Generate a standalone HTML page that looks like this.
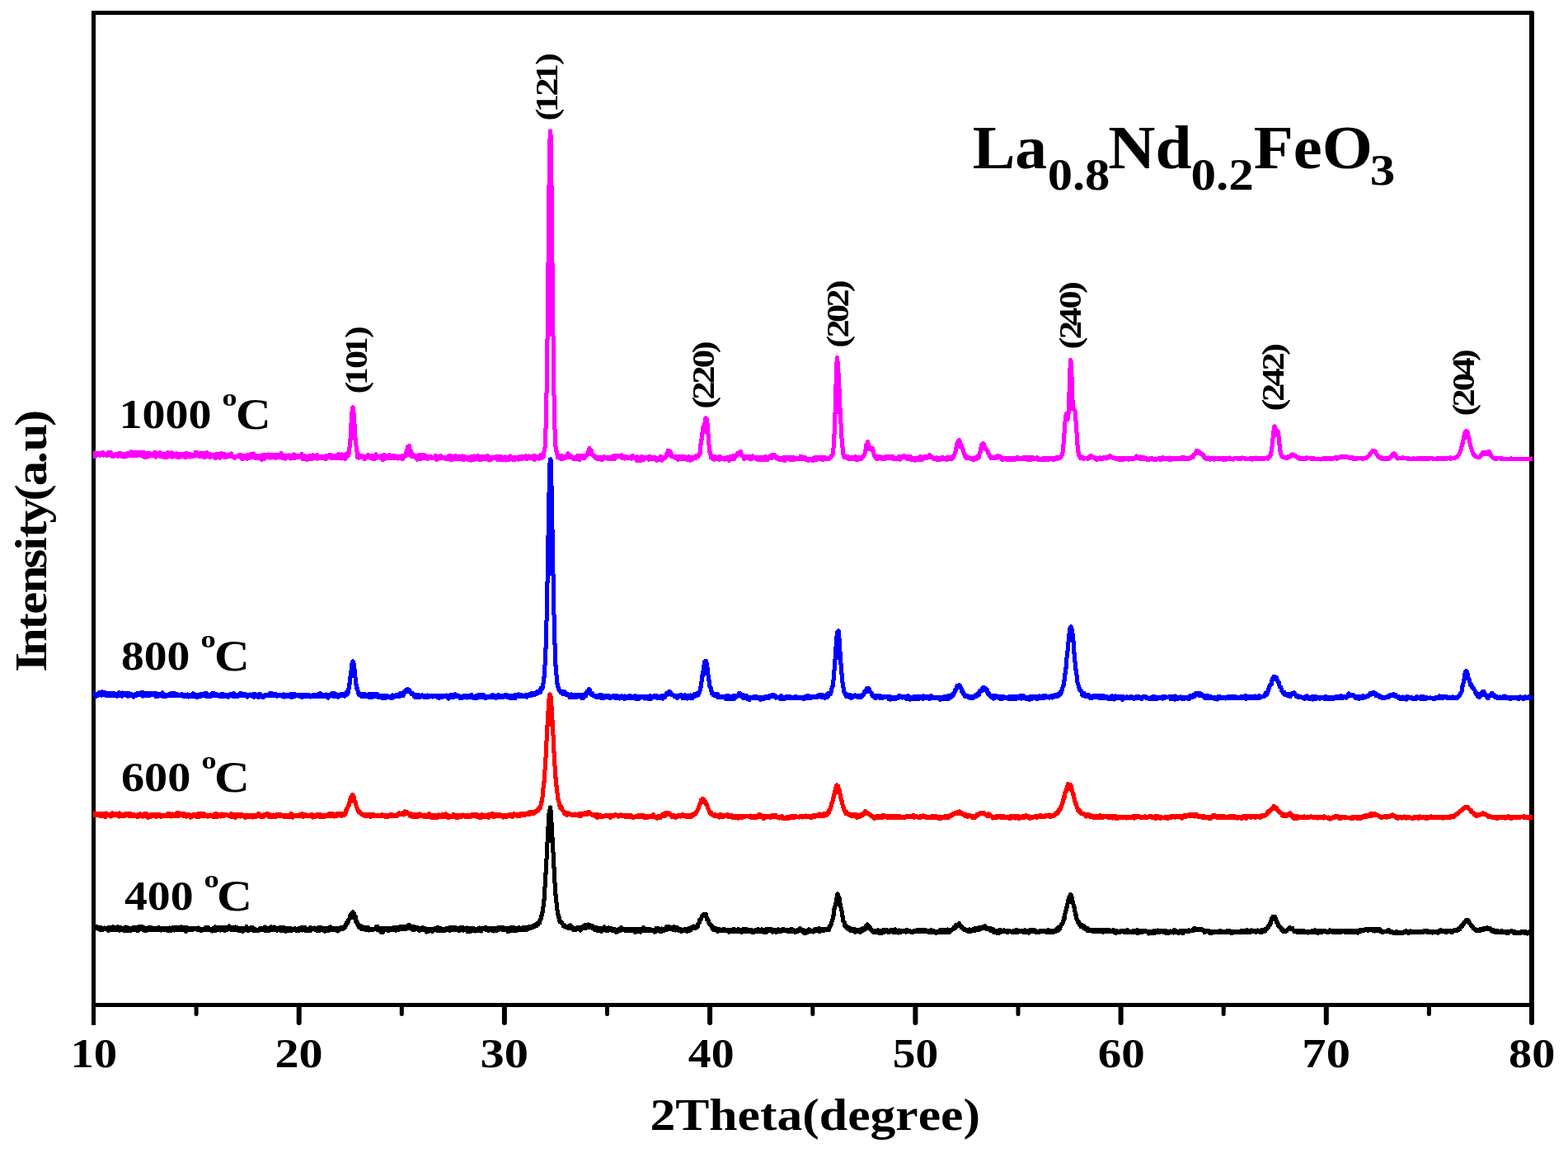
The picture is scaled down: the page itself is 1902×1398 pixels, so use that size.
<!DOCTYPE html>
<html lang="en"><head><meta charset="utf-8"><title>XRD patterns of La0.8Nd0.2FeO3</title>
<style>html,body{margin:0;padding:0;background:#fff;overflow:hidden}svg{display:block}text{font-kerning:none}</style></head>
<body>
<svg width="1902" height="1398" viewBox="0 0 1902 1398" font-family="'Liberation Serif', serif" font-weight="bold" fill="#000">
<rect width="1902" height="1398" fill="#fff"/>
<g shape-rendering="crispEdges">
<rect x="111" y="13" width="5" height="1230"/>
<rect x="111" y="13" width="1750" height="5"/>
<rect x="1855" y="13" width="6" height="1208"/>
<rect x="111" y="1216" width="1750" height="5"/>
<rect x="1860" y="13" width="1" height="1" fill="#fff"/>
</g>
<path d="M362.7 1219.5V1240.0M611.9 1219.5V1240.0M861.1 1219.5V1240.0M1110.4 1219.5V1240.0M1359.6 1219.5V1240.0M1608.8 1219.5V1240.0M1858.0 1219.5V1240.0" stroke="#000" stroke-width="6" stroke-linecap="round" fill="none"/>
<path d="M238.1 1219V1229.5M487.3 1219V1229.5M736.5 1219V1229.5M985.8 1219V1229.5M1235.0 1219V1229.5M1484.2 1219V1229.5M1733.4 1219V1229.5" stroke="#000" stroke-width="5" stroke-linecap="round" fill="none"/>
<g shape-rendering="crispEdges" stroke="none">
<path fill="#000000" d="M113 1121H114V1120H115V1121H119V1122H124V1123H126V1122H127V1123H130V1122H136V1121H138V1122H142V1121H144V1122H148V1123H150V1122H152V1121H153V1122H156V1123H160V1122H167V1121H174V1122H176V1123H179V1122H185V1123H191V1122H194V1123H205V1122H206V1123H208V1122H219V1121H221V1122H228V1123H240V1122H241V1123H243V1124H247V1123H248V1122H254V1123H255V1124H257V1123H259V1122H260V1121H262V1122H276V1121H277V1120H279V1121H280V1122H285V1121H286V1122H289V1123H297V1121H301V1123H303V1122H308V1123H309V1124H311V1125H313V1124H314V1123H319V1122H321V1121H322V1122H324V1123H326V1122H328V1121H330V1122H332V1121H333V1122H335V1123H338V1122H346V1123H354V1124H356V1123H359V1124H361V1123H364V1122H372V1124H374V1123H375V1122H378V1123H381V1122H382V1123H385V1122H391V1123H398V1122H400V1121H402V1122H403V1123H412V1122H416V1121H417V1119H418V1117H419V1116H420V1114H421V1113H422V1109H423V1107H424V1106H425V1105H426V1104H427V1103H429V1104H430V1105H431V1106H432V1109H433V1110H434V1115H435V1117H436V1119H437V1120H439V1121H441V1122H448V1123H449V1124H454V1122H455V1121H460V1123H476V1122H484V1121H493V1120H494V1119H498V1120H499V1121H504V1122H508V1123H511V1122H514V1123H517V1124H526V1123H529V1122H533V1123H536V1124H540V1123H544V1122H554V1123H557V1122H563V1123H566V1122H567V1123H576V1124H579V1123H581V1122H582V1123H587V1122H591V1123H603V1122H612V1123H618V1122H625V1123H628V1122H631V1123H633V1122H640V1121H645V1120H647V1119H649V1118H650V1117H652V1115H653V1113H654V1109H655V1105H656V1099H657V1090H658V1075H659V1058H660V1041H661V1021H662V1002H663V986H664V981H665V977H667V976H668V977H670V982H671V997H672V1015H673V1033H674V1051H675V1070H676V1084H677V1094H678V1103H679V1108H680V1111H681V1115H682V1116H683V1117H684V1119H686V1120H687V1121H689V1120H691V1119H693V1120H694V1121H695V1122H696V1123H699V1122H705V1121H707V1120H708V1119H713V1118H714V1119H717V1120H720V1121H721V1122H725V1123H731V1122H732V1121H734V1122H735V1123H737V1122H739V1123H743V1124H747V1125H749V1124H751V1123H752V1122H755V1123H756V1124H778V1123H779V1122H782V1123H783V1124H790V1125H794V1123H800V1124H802V1123H803V1124H806V1122H807V1121H813V1122H816V1121H819V1122H823V1123H824V1124H827V1125H829V1124H834V1123H837V1122H839V1121H841V1120H842V1121H844V1119H845V1118H846V1114H847V1113H848V1112H849V1109H850V1108H851V1107H852V1106H858V1107H859V1111H860V1113H861V1115H862V1118H863V1119H864V1120H865V1121H866V1122H867V1123H870V1124H874V1125H876V1124H880V1125H888V1124H892V1125H894V1124H897V1125H900V1124H907V1125H913V1126H915V1125H918V1124H921V1125H923V1124H925V1125H928V1124H937V1125H943V1124H945V1125H948V1124H952V1125H958V1124H962V1125H964V1126H966V1125H968V1124H969V1123H972V1124H973V1125H976V1126H979V1125H980V1124H982V1125H984V1126H986V1125H987V1124H992V1123H995V1124H1003V1123H1004V1121H1005V1120H1006V1117H1007V1114H1008V1109H1009V1101H1010V1098H1011V1094H1012V1088H1013V1083H1014V1082H1015V1081H1017V1082H1018V1083H1019V1086H1020V1088H1021V1095H1022V1100H1023V1104H1024V1110H1025V1116H1026V1117H1027V1120H1028V1121H1029V1122H1031V1123H1033V1124H1038V1125H1043V1124H1045V1123H1048V1121H1049V1120H1050V1119H1051V1118H1053V1119H1054V1120H1055V1121H1056V1122H1057V1123H1058V1125H1059V1126H1064V1125H1066V1126H1070V1125H1077V1126H1079V1125H1085V1124H1087V1125H1088V1126H1090V1125H1091V1126H1098V1125H1102V1126H1105V1127H1107V1126H1111V1125H1124V1126H1128V1125H1131V1126H1134V1127H1138V1126H1139V1125H1149V1124H1150V1125H1154V1124H1155V1122H1157V1120H1158V1119H1161V1118H1162V1117H1165V1118H1166V1120H1167V1121H1168V1122H1169V1123H1170V1124H1172V1125H1175V1124H1177V1125H1179V1124H1181V1123H1186V1122H1191V1121H1194V1120H1196V1121H1197V1122H1198V1123H1203V1124H1206V1125H1207V1126H1211V1125H1215V1126H1217V1125H1219V1126H1226V1127H1228V1126H1231V1125H1235V1126H1242V1125H1244V1126H1248V1125H1256V1126H1258V1127H1260V1126H1270V1125H1273V1126H1279V1125H1280V1124H1281V1123H1282V1122H1284V1121H1285V1119H1286V1118H1287V1115H1288V1111H1289V1107H1290V1103H1291V1099H1292V1095H1293V1090H1294V1087H1295V1085H1296V1083H1297V1082H1300V1083H1301V1084H1302V1087H1303V1092H1304V1096H1305V1099H1306V1105H1307V1108H1308V1113H1309V1115H1310V1116H1311V1118H1312V1119H1314V1120H1316V1121H1317V1122H1318V1123H1321V1124H1322V1125H1347V1126H1349V1125H1352V1126H1356V1127H1358V1126H1366V1125H1369V1126H1370V1127H1373V1126H1378V1125H1381V1126H1391V1127H1398V1126H1404V1125H1405V1126H1416V1127H1419V1126H1420V1127H1422V1126H1423V1125H1426V1126H1428V1127H1430V1126H1441V1125H1443V1126H1445V1125H1446V1124H1447V1123H1451V1124H1459V1125H1461V1126H1468V1127H1478V1126H1482V1127H1487V1126H1493V1127H1504V1126H1511V1125H1514V1126H1517V1125H1519V1126H1525V1125H1526V1126H1529V1125H1533V1124H1535V1123H1536V1121H1537V1120H1538V1118H1539V1115H1540V1112H1541V1111H1542V1109H1548V1110H1549V1112H1550V1115H1551V1117H1552V1119H1553V1121H1554V1122H1555V1123H1556V1124H1557V1125H1558V1126H1560V1125H1561V1124H1562V1123H1563V1122H1566V1123H1570V1126H1583V1127H1590V1126H1594V1125H1596V1126H1609V1127H1611V1126H1612V1125H1614V1126H1648V1125H1655V1124H1675V1125H1676V1126H1677V1127H1681V1126H1683V1125H1686V1126H1687V1127H1690V1128H1692V1127H1696V1128H1702V1127H1704V1126H1707V1127H1710V1126H1712V1127H1726V1126H1733V1127H1744V1126H1746V1125H1749V1126H1763V1125H1767V1124H1768V1123H1770V1121H1771V1120H1772V1119H1773V1118H1774V1116H1776V1114H1777V1113H1782V1114H1783V1115H1784V1117H1785V1119H1786V1120H1787V1121H1788V1122H1789V1124H1791V1125H1794V1124H1798V1123H1803V1122H1805V1123H1809V1124H1810V1125H1813V1126H1818V1127H1820V1126H1823V1127H1832V1126H1835V1127H1839V1128H1844V1127H1852V1128H1854V1127H1856V1126H1859V1134H1858V1133H1855V1134H1853V1135H1852V1134H1848V1133H1846V1134H1835V1133H1834V1132H1832V1133H1831V1134H1826V1133H1812V1132H1809V1131H1807V1129H1801V1130H1797V1131H1789V1130H1788V1129H1787V1128H1785V1126H1784V1125H1783V1124H1782V1122H1781V1121H1780V1120H1778V1122H1777V1123H1776V1125H1775V1126H1773V1129H1771V1130H1769V1131H1764V1132H1763V1133H1759V1132H1756V1133H1752V1132H1747V1133H1745V1134H1743V1133H1738V1134H1737V1133H1730V1132H1728V1133H1710V1134H1707V1133H1703V1134H1689V1133H1685V1132H1679V1133H1675V1132H1673V1131H1668V1132H1667V1131H1664V1130H1661V1131H1658V1130H1656V1131H1652V1132H1649V1133H1648V1134H1646V1133H1630V1132H1628V1133H1615V1132H1613V1133H1608V1132H1605V1133H1600V1134H1597V1133H1587V1134H1586V1133H1572V1132H1568V1130H1567V1129H1563V1131H1561V1132H1555V1131H1554V1130H1553V1129H1552V1127H1551V1126H1550V1125H1549V1124H1548V1121H1547V1120H1546V1117H1544V1121H1543V1123H1542V1124H1541V1126H1540V1127H1539V1128H1538V1129H1537V1131H1535V1132H1532V1133H1527V1132H1525V1133H1522V1132H1518V1133H1496V1134H1492V1133H1471V1134H1466V1133H1465V1132H1463V1133H1459V1131H1458V1130H1449V1131H1444V1132H1437V1134H1433V1133H1431V1134H1428V1133H1424V1134H1423V1133H1419V1134H1413V1133H1410V1132H1408V1133H1402V1134H1394V1135H1393V1134H1391V1132H1387V1133H1382V1134H1378V1133H1362V1132H1360V1133H1355V1134H1352V1133H1350V1132H1339V1133H1337V1132H1324V1131H1317V1129H1315V1128H1313V1127H1312V1126H1309V1124H1308V1123H1307V1121H1306V1120H1305V1117H1304V1115H1303V1111H1302V1106H1301V1101H1300V1097H1299V1096H1297V1101H1296V1105H1295V1108H1294V1115H1293V1117H1292V1120H1291V1122H1290V1123H1289V1125H1288V1128H1287V1129H1286V1130H1285V1131H1282V1132H1279V1133H1268V1132H1262V1133H1255V1132H1250V1133H1249V1134H1247V1133H1240V1132H1236V1133H1226V1132H1224V1133H1220V1132H1215V1133H1213V1134H1208V1133H1204V1132H1203V1131H1200V1130H1199V1129H1195V1128H1191V1129H1189V1130H1184V1131H1179V1132H1173V1131H1171V1130H1168V1129H1167V1128H1166V1127H1164V1125H1162V1126H1161V1127H1160V1128H1158V1129H1156V1130H1155V1131H1154V1132H1153V1133H1137V1134H1134V1133H1125V1132H1109V1133H1104V1132H1100V1133H1098V1132H1094V1133H1090V1134H1089V1133H1082V1132H1080V1133H1076V1132H1074V1133H1071V1134H1065V1133H1058V1132H1057V1131H1056V1130H1055V1129H1054V1128H1051V1129H1050V1130H1048V1131H1046V1132H1045V1133H1042V1132H1038V1133H1036V1132H1035V1131H1030V1130H1029V1129H1027V1128H1026V1127H1025V1126H1024V1125H1023V1124H1022V1119H1021V1118H1020V1112H1019V1105H1018V1101H1017V1099H1015V1103H1014V1111H1013V1115H1012V1118H1011V1122H1010V1124H1009V1126H1008V1129H1007V1130H1001V1131H996V1132H992V1131H989V1132H987V1133H986V1132H981V1133H979V1134H974V1133H973V1132H972V1131H969V1132H966V1133H963V1132H954V1131H949V1132H943V1133H940V1132H938V1133H936V1132H935V1131H932V1132H931V1133H925V1132H916V1133H911V1132H901V1133H898V1132H885V1133H883V1132H882V1131H872V1132H869V1131H868V1130H864V1129H863V1128H862V1126H861V1124H860V1123H859V1122H858V1120H857V1117H855V1113H853V1116H852V1117H851V1120H850V1121H849V1125H848V1126H847V1127H845V1128H840V1130H838V1131H835V1132H832V1131H828V1132H825V1131H822V1130H820V1131H819V1130H815V1129H810V1130H807V1131H804V1132H799V1131H797V1132H795V1133H793V1132H792V1131H779V1132H778V1133H776V1132H772V1133H769V1132H768V1131H757V1130H754V1131H751V1132H749V1133H746V1132H745V1131H741V1130H739V1131H734V1130H732V1131H731V1132H728V1131H723V1130H720V1129H719V1128H717V1127H712V1128H707V1129H706V1130H705V1131H703V1130H702V1129H700V1130H694V1129H693V1128H688V1127H685V1126H683V1125H681V1122H680V1121H679V1120H677V1118H676V1114H675V1110H674V1104H673V1095H672V1086H671V1071H670V1053H669V1034H668V1022H666V1042H665V1060H664V1076H663V1092H662V1100H661V1107H660V1111H659V1115H658V1117H657V1121H655V1123H653V1125H650V1126H648V1127H645V1128H642V1129H640V1130H628V1131H619V1132H614V1130H608V1129H606V1130H604V1131H599V1132H598V1131H596V1130H594V1131H591V1130H588V1129H586V1131H584V1132H583V1131H577V1132H576V1131H572V1132H565V1130H563V1131H561V1130H559V1131H555V1130H547V1131H544V1130H541V1131H529V1130H527V1131H526V1132H523V1131H521V1132H518V1133H517V1132H515V1130H510V1131H507V1130H506V1129H504V1130H499V1129H498V1128H494V1129H485V1130H481V1131H479V1130H473V1131H469V1130H467V1132H466V1133H461V1132H460V1131H459V1130H456V1129H454V1130H448V1131H447V1130H442V1129H437V1128H436V1127H434V1126H433V1124H432V1122H431V1120H430V1119H429V1115H426V1116H425V1119H424V1121H423V1122H422V1124H421V1126H420V1127H419V1128H417V1129H413V1130H412V1131H410V1132H409V1131H407V1130H400V1131H395V1132H393V1131H391V1130H389V1131H383V1130H381V1129H379V1130H378V1131H369V1130H367V1131H366V1130H364V1131H358V1130H355V1131H348V1132H345V1131H339V1130H337V1131H335V1130H328V1131H320V1130H315V1131H306V1130H303V1131H299V1130H297V1131H296V1132H293V1131H288V1130H279V1129H277V1130H274V1131H271V1130H268V1131H267V1130H263V1131H258V1132H257V1131H255V1130H246V1131H242V1130H238V1129H235V1130H228V1131H227V1132H224V1131H223V1130H212V1131H211V1130H209V1131H202V1130H196V1131H195V1130H179V1131H174V1130H172V1129H170V1130H169V1131H165V1130H160V1131H149V1130H146V1131H144V1130H133V1131H130V1130H129V1129H126V1130H120V1129H118V1128H116V1130H115V1131H113Z"/>
<path fill="#ff0000" d="M113 983H114V984H128V983H129V984H131V985H134V984H135V983H137V984H144V983H146V984H147V985H151V984H160V985H164V986H166V985H169V984H171V985H174V984H179V985H180V986H182V985H195V986H201V985H202V984H207V985H209V984H210V985H212V984H213V983H218V984H225V985H231V986H233V985H239V984H249V985H250V986H255V985H256V986H258V985H260V984H264V985H269V984H270V985H276V986H278V985H279V984H282V985H295V986H311V985H312V984H316V986H319V985H322V984H326V985H329V986H331V985H332V986H334V985H342V986H351V984H355V985H356V986H362V985H365V984H368V985H372V986H376V985H380V986H383V985H390V986H396V985H398V984H405V985H407V984H417V981H418V979H419V978H420V975H421V972H422V968H423V965H424V964H425V962H426V961H429V962H430V963H431V965H432V970H433V972H434V976H435V979H436V981H437V982H438V983H439V984H440V985H455V986H462V985H465V986H472V985H477V986H480V985H482V984H483V983H485V984H487V983H489V982H490V981H492V982H495V983H496V984H500V985H508V984H510V985H512V986H514V985H515V986H518V985H519V984H522V985H523V986H531V985H533V986H535V985H540V984H542V985H543V986H545V987H548V985H552V986H561V985H562V986H571V985H580V986H583V985H586V986H591V985H595V984H599V985H608V986H616V985H622V984H625V985H630V984H639V983H641V982H648V981H650V979H652V977H653V976H654V971H655V966H656V955H657V947H658V933H659V918H660V898H661V879H662V862H663V847H664V841H665V840H666V839H668V840H669V841H670V844H671V856H672V873H673V891H674V911H675V928H676V942H677V952H678V961H679V968H680V972H681V975H682V976H683V978H684V981H685V982H686V983H690V984H693V985H697V984H698V985H701V984H708V983H712V982H716V983H717V984H718V985H727V986H730V987H733V986H745V985H748V986H752V985H754V986H767V987H768V988H770V987H773V986H782V987H790V986H791V985H794V986H795V988H797V987H801V986H802V985H804V984H806V983H812V984H814V985H815V986H819V987H821V986H826V985H830V986H838V985H840V984H842V983H843V982H844V980H845V977H846V974H847V972H848V968H850V966H854V967H856V969H857V970H858V972H859V974H860V977H861V980H862V982H863V983H865V985H869V986H872V985H876V986H881V985H884V986H889V987H910V986H911V987H918V986H919V985H923V986H925V987H935V986H943V988H947V987H950V988H951V989H953V988H958V987H967V988H969V987H977V986H978V987H985V986H991V985H994V984H995V985H998V984H1002V983H1003V981H1004V980H1005V977H1006V973H1007V971H1008V966H1009V962H1010V958H1011V954H1012V951H1013V950H1014V949H1016V950H1017V951H1019V955H1020V957H1021V962H1022V967H1023V970H1024V975H1025V978H1026V981H1027V982H1029V984H1031V985H1040V986H1043V985H1045V984H1047V982H1048V981H1051V982H1052V983H1054V984H1055V985H1057V986H1058V987H1060V988H1062V987H1069V986H1074V987H1093V988H1098V987H1106V986H1110V987H1113V988H1115V987H1119V986H1121V987H1124V988H1129V987H1137V988H1145V987H1151V986H1153V985H1155V984H1157V983H1160V982H1163V981H1165V982H1166V983H1168V984H1170V985H1173V986H1178V987H1183V985H1186V984H1188V983H1195V984H1196V985H1198V984H1200V985H1202V986H1203V987H1204V988H1207V987H1219V988H1224V987H1237V988H1239V987H1243V986H1246V987H1249V988H1254V987H1260V986H1264V987H1267V986H1272V985H1273V986H1278V984H1280V983H1281V982H1282V980H1283V979H1284V977H1285V975H1286V972H1287V968H1288V964H1289V960H1290V958H1291V955H1292V952H1293V949H1294V948H1297V949H1300V950H1301V952H1302V956H1303V960H1304V962H1305V967H1306V971H1307V973H1308V977H1309V979H1310V980H1311V981H1312V982H1313V984H1316V985H1322V986H1325V987H1333V986H1336V987H1355V988H1373V987H1383V988H1388V987H1390V988H1393V987H1398V988H1400V987H1406V988H1410V989H1412V988H1419V987H1435V986H1441V985H1453V986H1454V987H1462V988H1469V987H1470V986H1475V987H1486V988H1490V987H1499V988H1507V987H1529V986H1534V985H1535V983H1536V982H1537V981H1539V980H1540V979H1541V978H1542V977H1543V975H1547V976H1548V977H1550V978H1551V980H1552V981H1553V982H1554V983H1555V984H1557V985H1562V984H1564V983H1566V984H1567V985H1568V986H1569V987H1575V988H1581V987H1583V988H1589V987H1591V988H1605V987H1607V988H1609V989H1611V988H1612V989H1616V988H1618V987H1624V988H1634V989H1639V988H1652V987H1655V986H1660V985H1661V984H1669V985H1671V986H1673V987H1675V988H1678V987H1686V986H1688V985H1690V986H1692V987H1694V988H1703V987H1704V988H1711V989H1714V988H1721V987H1723V988H1735V987H1737V988H1758V987H1763V986H1764V985H1766V984H1767V983H1769V981H1771V980H1772V979H1773V978H1774V977H1776V976H1782V977H1783V979H1784V980H1786V981H1787V983H1789V984H1790V985H1796V984H1798V983H1800V984H1803V985H1804V986H1806V987H1809V988H1828V987H1831V988H1847V987H1850V988H1856V987H1857V988H1859V994H1856V995H1854V994H1847V993H1845V994H1835V995H1831V994H1827V995H1825V994H1818V995H1814V994H1809V993H1804V992H1803V991H1802V990H1796V991H1793V992H1789V991H1788V990H1786V988H1785V987H1783V986H1782V984H1781V983H1780V982H1777V983H1776V984H1775V985H1773V986H1772V987H1771V988H1770V989H1769V990H1767V991H1766V992H1765V993H1761V994H1751V995H1749V994H1733V995H1728V994H1722V995H1719V994H1716V995H1711V994H1707V995H1705V994H1701V995H1700V994H1697V995H1694V994H1692V993H1691V992H1687V993H1683V994H1681V993H1678V994H1674V993H1672V992H1671V991H1665V992H1659V993H1654V994H1652V995H1645V994H1643V995H1637V994H1628V995H1623V994H1622V993H1620V994H1617V995H1614V996H1612V995H1610V994H1606V995H1605V994H1599V995H1598V994H1591V993H1589V994H1575V995H1568V994H1567V993H1566V992H1565V991H1562V992H1555V991H1553V988H1551V987H1550V986H1549V985H1548V984H1547V983H1544V984H1543V985H1542V986H1541V987H1540V988H1539V989H1538V990H1537V991H1535V992H1532V993H1530V994H1527V993H1524V994H1521V993H1519V994H1516V993H1514V994H1513V995H1510V994H1508V995H1504V994H1502V995H1500V994H1475V993H1471V994H1470V995H1465V994H1457V993H1452V992H1450V993H1449V992H1440V993H1436V994H1435V995H1433V994H1431V993H1426V994H1424V993H1422V994H1418V995H1414V994H1409V995H1406V994H1404V995H1400V994H1396V993H1393V994H1382V993H1379V994H1377V995H1375V994H1367V995H1366V994H1357V995H1352V994H1350V995H1349V994H1343V993H1339V994H1325V993H1321V992H1318V993H1317V992H1315V990H1313V989H1310V988H1309V987H1308V986H1307V985H1306V984H1305V981H1304V978H1303V976H1302V973H1301V969H1300V965H1299V961H1298V959H1296V961H1295V962H1294V968H1293V970H1292V974H1291V977H1290V980H1289V982H1288V984H1287V985H1286V987H1285V988H1284V989H1282V990H1281V991H1279V992H1276V993H1272V992H1269V993H1259V994H1256V993H1254V994H1251V995H1248V994H1246V993H1244V994H1238V995H1234V994H1232V995H1231V994H1227V995H1223V994H1213V993H1211V994H1205V995H1204V994H1202V992H1196V991H1195V990H1193V989H1189V990H1188V991H1186V992H1185V993H1184V994H1178V993H1177V992H1175V993H1172V992H1169V991H1168V990H1166V989H1158V990H1157V991H1155V992H1153V993H1152V994H1143V995H1137V994H1122V993H1118V994H1113V993H1110V994H1108V993H1099V994H1075V993H1072V994H1062V995H1059V994H1058V993H1057V992H1055V991H1054V990H1053V989H1049V990H1048V991H1046V992H1044V993H1041V994H1038V993H1037V992H1031V991H1029V990H1027V989H1024V987H1023V985H1022V983H1021V980H1020V976H1019V972H1018V969H1017V963H1015V964H1014V968H1013V972H1012V975H1011V979H1010V982H1009V984H1008V987H1007V988H1006V989H1005V990H1004V991H1001V992H990V993H986V994H982V993H974V994H973V993H970V994H969V993H965V994H958V995H948V994H946V995H945V994H942V993H936V994H933V993H930V994H928V995H924V993H919V994H910V993H907V992H905V993H902V994H896V995H894V994H887V993H882V992H879V993H873V994H872V993H870V992H865V991H863V990H862V989H860V988H859V986H858V983H857V981H856V978H855V977H854V975H852V976H851V978H850V981H849V983H848V985H847V987H846V989H844V990H843V991H841V992H840V993H831V992H826V993H825V992H823V993H821V994H818V993H813V991H812V990H809V991H808V992H803V994H798V995H796V994H794V993H787V994H780V993H770V994H766V993H757V992H751V993H749V992H748V991H746V992H743V993H742V994H739V993H738V992H733V993H726V994H723V993H722V992H720V991H717V990H716V989H714V990H707V991H706V992H701V991H692V990H689V991H686V990H685V989H683V988H682V985H681V984H680V983H679V982H678V981H677V978H676V973H675V970H674V962H673V954H672V944H671V929H670V913H669V892H668V881H666V899H665V919H664V934H663V949H662V956H661V967H660V973H659V977H658V981H657V982H656V983H655V985H653V986H652V987H650V988H649V989H644V990H638V991H632V992H626V991H624V992H623V993H620V992H616V993H611V994H610V993H608V992H601V993H597V992H595V993H594V994H591V993H585V994H580V993H577V992H572V993H563V992H561V993H557V994H552V993H546V994H542V993H532V994H522V993H513V992H508V993H499V992H496V991H495V989H492V990H490V991H489V990H484V991H483V992H472V993H466V992H451V993H448V992H441V991H439V990H437V989H436V988H435V987H433V985H432V983H431V980H430V977H429V974H426V978H425V979H424V981H423V984H422V987H421V989H420V990H419V991H416V992H413V991H410V992H406V993H405V992H395V993H386V992H384V993H380V994H379V993H377V992H369V993H366V992H357V993H356V994H354V993H343V992H336V993H325V992H324V991H322V992H321V993H315V992H312V993H307V994H306V993H299V994H296V993H295V992H292V993H291V992H288V993H287V994H284V993H279V992H276V991H273V992H268V993H267V992H265V993H257V992H253V993H251V992H243V993H237V992H234V993H232V994H230V993H229V992H227V993H225V992H221V991H218V992H208V993H207V992H197V993H194V992H191V993H188V992H184V993H181V994H178V993H177V992H174V993H172V992H169V993H165V992H155V991H153V992H145V993H144V992H142V991H137V992H135V993H134V992H132V991H130V993H126V992H120V991H113Z"/>
<path fill="#0000ff" d="M113 837H114V838H116V839H118V838H119V837H123V836H125V837H129V838H140V839H142V838H143V837H146V838H148V837H149V838H158V839H161V840H163V839H165V838H170V837H175V838H191V839H195V838H196V837H198V838H199V839H200V840H204V839H206V838H213V839H216V840H219V839H222V840H227V839H228V840H232V839H233V838H235V839H237V840H242V839H247V838H252V839H253V840H255V839H256V838H261V839H264V840H267V839H272V840H278V839H282V838H285V839H286V840H289V839H290V838H294V839H299V840H303V839H304V840H306V839H311V840H313V839H317V840H318V841H320V840H325V839H326V838H331V839H336V840H343V839H345V840H351V839H359V840H376V841H378V840H385V839H387V838H390V839H391V840H395V839H396V840H400V839H401V838H407V839H409V840H412V839H418V837H420V834H421V828H422V820H423V813H424V804H425V801H426V800H427V799H429V800H430V801H431V804H432V811H433V821H434V829H435V833H436V837H437V839H444V840H446V839H459V840H460V841H471V842H474V841H475V840H477V841H479V840H483V839H484V838H488V837H489V836H490V835H491V834H493V833H496V834H498V835H499V837H500V838H502V839H503V840H509V841H511V840H513V841H518V840H519V841H541V840H542V841H545V840H551V839H553V840H555V841H558V842H561V841H570V840H574V842H576V841H579V840H588V841H589V842H594V841H596V840H599V841H603V840H606V841H611V840H616V841H623V840H628V839H630V840H634V841H636V840H641V839H643V838H649V837H650V836H653V834H654V832H656V828H657V820H658V806H659V785H660V752H661V705H662V649H663V597H664V561H665V555H667V554H669V555H670V557H671V589H672V642H673V696H674V745H675V780H676V806H677V818H678V828H679V832H680V835H681V836H686V837H687V838H688V839H690V840H692V839H694V840H708V839H709V838H710V836H712V834H713V833H716V834H717V835H718V838H720V839H721V841H726V840H731V841H740V842H742V841H750V842H753V841H755V842H757V841H758V842H762V841H766V842H769V841H772V842H787V841H790V842H792V841H798V842H801V841H806V839H807V838H809V837H810V836H814V837H815V838H816V840H818V841H824V840H828V841H830V840H832V841H837V840H838V841H840V840H841V839H844V838H846V837H847V832H848V826H849V818H850V813H851V806H852V801H853V800H854V799H858V800H859V803H860V809H861V818H862V824H863V831H864V833H865V837H866V839H872V840H873V842H880V841H885V842H888V841H894V839H895V838H899V839H900V840H903V841H907V842H908V843H913V842H919V843H927V842H932V841H935V840H940V841H942V842H943V843H945V842H946V841H949V842H950V843H952V842H960V843H963V842H967V843H975V842H978V841H982V842H990V841H992V840H999V841H1001V840H1002V839H1003V838H1006V834H1007V831H1008V824H1009V812H1010V799H1011V784H1012V771H1013V765H1014V764H1015V763H1016V762H1018V763H1019V764H1020V774H1021V790H1022V804H1023V816H1024V827H1025V833H1026V838H1027V839H1028V840H1033V841H1036V840H1038V841H1044V840H1046V837H1047V836H1048V835H1049V833H1050V832H1055V833H1056V834H1057V837H1058V838H1059V839H1060V841H1069V842H1081V843H1088V842H1089V841H1093V842H1100V841H1103V842H1104V843H1107V842H1119V841H1121V842H1128V841H1131V842H1132V843H1144V842H1149V841H1153V840H1154V839H1155V838H1156V835H1157V834H1158V831H1159V829H1162V828H1165V829H1166V830H1167V832H1168V834H1169V836H1170V838H1171V840H1172V841H1175V842H1181V841H1182V840H1184V839H1185V838H1186V836H1187V835H1189V833H1190V832H1191V831H1195V832H1197V833H1198V834H1199V835H1200V838H1201V839H1202V841H1210V842H1219V843H1223V842H1236V841H1243V842H1244V843H1248V842H1260V841H1262V842H1264V841H1270V842H1274V841H1278V840H1282V839H1284V837H1285V836H1286V833H1287V830H1288V824H1289V816H1290V809H1291V797H1292V789H1293V778H1294V768H1295V761H1296V759H1297V758H1298V757H1300V758H1301V759H1302V762H1303V768H1304V777H1305V791H1306V802H1307V811H1308V818H1309V827H1310V830H1311V833H1312V835H1313V836H1314V838H1317V840H1322V841H1323V842H1325V841H1340V842H1344V843H1346V842H1348V841H1350V842H1352V841H1354V842H1364V843H1366V842H1368V843H1370V842H1374V843H1377V842H1383V843H1385V842H1391V843H1393V844H1395V843H1397V842H1402V843H1409V842H1415V843H1417V842H1425V841H1426V842H1428V843H1431V842H1433V843H1441V842H1442V841H1446V840H1448V839H1449V838H1457V839H1459V840H1460V841H1467V842H1470V843H1476V842H1481V843H1488V842H1500V843H1504V842H1509V841H1513V842H1522V841H1523V842H1526V841H1529V842H1532V840H1533V838H1535V837H1536V834H1537V831H1538V829H1539V828H1540V824H1541V821H1542V820H1543V818H1548V819H1550V820H1551V823H1552V825H1553V826H1554V831H1556V834H1557V837H1560V839H1566V838H1569V837H1571V838H1572V839H1573V841H1576V842H1579V843H1582V842H1584V841H1586V842H1588V843H1590V842H1598V843H1606V842H1610V843H1619V842H1625V841H1628V842H1633V840H1634V839H1635V838H1637V839H1638V840H1643V841H1644V842H1652V841H1655V842H1657V841H1659V840H1660V838H1664V837H1668V838H1670V839H1671V840H1673V841H1675V842H1677V843H1681V842H1683V841H1685V840H1689V839H1692V840H1695V842H1698V843H1701V842H1702V843H1705V842H1709V843H1714V844H1716V843H1717V842H1720V843H1722V842H1728V843H1732V844H1734V843H1736V844H1740V843H1744V842H1745V841H1747V842H1756V843H1761V842H1763V843H1767V842H1768V841H1769V839H1770V838H1771V831H1772V828H1773V823H1774V816H1775V813H1776V812H1777V811H1780V812H1781V813H1782V816H1783V821H1784V823H1785V827H1786V828H1787V830H1788V832H1789V833H1790V835H1791V837H1792V838H1793V839H1795V838H1796V837H1797V836H1802V838H1803V840H1804V841H1806V840H1807V839H1808V838H1812V840H1814V841H1815V842H1817V843H1819V842H1820V843H1822V842H1824V841H1825V842H1828V843H1843V842H1845V843H1849V842H1851V843H1853V842H1856V843H1859V848H1858V849H1850V850H1846V849H1844V850H1840V849H1834V850H1830V849H1815V848H1812V847H1811V846H1808V847H1807V849H1803V848H1802V847H1801V845H1798V846H1797V847H1796V848H1793V847H1791V846H1790V844H1789V843H1788V841H1787V838H1786V837H1785V836H1784V835H1783V833H1782V832H1781V828H1780V825H1778V829H1777V833H1776V839H1775V841H1774V843H1773V845H1772V846H1771V847H1770V848H1769V849H1754V848H1752V849H1742V850H1737V849H1731V850H1722V849H1719V850H1712V849H1708V850H1707V851H1705V850H1697V849H1695V848H1694V847H1691V846H1687V847H1686V848H1681V849H1675V848H1672V847H1671V846H1667V844H1664V845H1662V846H1661V847H1658V848H1655V849H1650V850H1647V849H1643V848H1642V847H1641V846H1637V847H1635V848H1634V849H1632V848H1630V849H1619V850H1605V849H1602V850H1600V849H1598V850H1593V851H1592V850H1586V849H1584V850H1581V849H1579V848H1573V847H1571V846H1570V844H1568V845H1567V847H1563V846H1560V845H1557V844H1556V843H1555V842H1554V840H1553V839H1552V835H1550V832H1549V829H1548V827H1547V826H1545V831H1544V832H1543V833H1542V836H1541V839H1540V842H1539V844H1538V845H1536V846H1535V847H1531V848H1529V849H1513V850H1510V849H1487V850H1486V849H1479V850H1477V851H1476V850H1472V849H1460V848H1459V847H1458V846H1453V845H1451V847H1448V848H1445V849H1444V850H1440V849H1438V850H1432V849H1430V850H1426V851H1424V850H1418V848H1414V849H1411V850H1409V849H1405V850H1392V849H1389V848H1387V850H1383V849H1377V850H1374V849H1364V850H1363V851H1360V850H1359V849H1354V850H1352V851H1351V850H1343V849H1332V848H1326V849H1321V848H1320V847H1315V846H1312V845H1311V844H1310V840H1309V839H1308V838H1307V835H1306V831H1305V828H1304V819H1303V813H1302V803H1301V793H1300V779H1298V790H1297V798H1296V811H1295V818H1294V826H1293V832H1292V834H1291V838H1290V841H1289V843H1288V844H1287V845H1286V846H1284V847H1279V848H1277V849H1276V848H1274V849H1272V848H1268V849H1260V850H1256V849H1253V850H1250V851H1247V850H1243V849H1240V850H1238V849H1234V850H1222V849H1217V850H1212V849H1210V848H1208V849H1206V850H1204V849H1203V848H1201V847H1200V846H1199V845H1198V844H1197V843H1196V841H1195V839H1193V840H1191V841H1190V844H1189V845H1187V846H1186V847H1183V848H1182V849H1175V848H1173V847H1169V846H1168V844H1167V843H1166V841H1165V840H1164V836H1162V838H1161V840H1160V842H1159V844H1158V846H1156V847H1155V848H1153V849H1152V850H1142V851H1139V850H1138V849H1129V850H1126V849H1121V850H1118V849H1116V850H1105V851H1103V850H1098V849H1097V848H1095V849H1094V848H1091V849H1088V850H1081V851H1079V850H1076V848H1072V849H1066V848H1064V849H1060V848H1059V847H1058V846H1056V844H1055V841H1051V842H1050V844H1049V845H1048V846H1047V847H1046V848H1039V847H1036V848H1034V849H1031V848H1029V847H1025V846H1024V844H1023V842H1022V840H1021V834H1020V828H1019V818H1018V806H1017V800H1015V813H1014V825H1013V833H1012V835H1011V840H1010V843H1009V844H1007V846H1006V847H1005V848H1002V849H999V848H995V847H993V848H985V849H977V850H973V849H953V850H945V849H944V848H942V849H940V848H939V847H935V848H934V849H928V850H924V851H921V850H920V849H911V851H907V850H905V849H900V848H899V847H898V846H896V847H894V848H893V849H892V850H879V849H878V848H869V847H868V846H865V845H863V843H861V839H860V835H859V833H858V826H857V819H855V821H854V827H853V834H852V838H851V841H850V843H849V845H847V846H844V847H842V849H834V850H833V849H826V847H824V848H823V849H820V848H819V847H816V845H813V844H811V845H809V847H808V848H806V849H805V850H803V849H796V848H792V849H791V850H785V849H783V850H782V849H780V848H778V849H776V850H770V849H759V850H756V849H752V850H751V849H745V848H742V849H738V848H734V849H728V848H722V847H720V846H718V845H716V844H715V843H713V846H711V847H710V848H709V849H704V848H703V847H701V848H689V846H688V845H685V844H681V843H680V842H678V840H677V839H676V837H675V834H674V830H673V819H672V808H671V782H670V746H669V698H667V707H666V753H665V787H664V807H663V822H662V829H661V835H660V837H659V838H658V841H657V842H654V843H652V844H650V845H646V846H641V847H640V848H638V847H627V849H617V848H614V847H612V848H603V849H600V848H591V849H587V848H580V849H573V848H567V849H566V848H562V849H556V847H552V848H546V849H545V850H543V849H542V848H541V847H538V848H534V849H531V848H529V847H525V848H524V847H521V848H513V847H511V848H502V847H501V846H500V844H497V842H496V841H493V842H492V844H491V846H486V847H479V848H477V849H473V848H469V849H462V848H457V847H453V848H446V847H437V846H436V845H434V844H433V842H432V838H431V836H430V831H429V822H427V830H426V836H425V841H424V843H423V844H422V845H420V846H419V847H417V846H413V847H411V848H409V847H403V846H401V847H400V848H399V849H397V848H396V847H377V848H376V847H368V848H365V847H362V846H359V847H356V848H352V847H346V848H344V847H341V846H337V847H335V846H322V847H321V848H317V847H315V848H312V847H309V848H307V847H305V846H302V847H301V848H299V847H298V846H290V847H281V846H279V847H278V848H276V847H265V846H257V847H249V846H245V847H241V848H237V847H229V848H228V847H221V846H203V847H196V846H193V847H187V845H183V846H174V847H172V846H171V845H167V846H164V847H163V848H161V847H160V846H156V847H154V846H152V845H150V846H149V847H147V846H143V847H141V846H127V845H124V846H122V845H120V846H118V847H115V846H114V844H113Z"/>
<path fill="#ff00ff" d="M113 547H115V546H116V547H123V546H126V547H127V548H129V547H130V546H136V547H137V549H139V548H143V547H148V548H153V547H157V546H158V545H160V546H176V547H183V548H185V547H186V546H190V547H193V546H195V547H197V548H201V547H202V546H205V547H207V546H209V547H211V548H213V547H215V548H224V547H228V548H232V549H235V546H240V547H250V546H252V547H253V548H256V549H261V548H267V547H270V548H274V549H278V548H280V547H281V548H283V551H287V550H289V549H294V550H299V549H303V548H307V547H308V548H310V550H317V549H325V548H326V549H339V547H343V549H344V550H350V549H351V550H354V549H356V548H357V549H359V550H364V548H368V550H371V551H374V550H378V549H381V550H383V549H386V550H387V551H394V550H398V549H403V550H408V549H409V548H412V549H414V548H415V549H418V548H420V547H421V542H422V532H423V513H424V499H425V493H426V492H427V491H429V492H430V493H431V500H432V514H433V530H434V540H435V546H436V549H437V550H441V551H444V550H445V549H448V550H454V549H455V548H457V549H458V550H459V551H461V550H464V549H468V550H471V549H474V550H481V551H486V550H490V547H491V544H492V540H493V539H495V538H498V539H499V544H500V545H501V548H502V549H503V550H507V549H516V550H518V551H524V552H526V550H530V551H533V550H536V551H537V552H542V551H543V550H548V551H551V550H554V551H560V550H562V551H565V552H570V551H575V550H576V551H578V550H581V551H590V550H593V551H594V552H600V551H609V552H612V551H613V552H617V551H618V550H620V551H621V552H629V551H637V550H639V551H641V550H642V551H646V550H650V551H654V549H657V547H658V542H659V519H660V476H661V411H662V318H663V224H664V168H665V157H667V156H668V157H670V163H671V225H672V319H673V407H674V479H675V520H676V541H677V546H678V550H683V551H686V549H687V548H688V547H690V548H691V549H692V550H694V551H695V552H698V551H699V550H710V548H711V546H712V543H713V541H717V543H718V544H719V545H720V549H721V550H722V551H724V552H731V551H734V552H741V551H743V550H753V549H755V550H756V551H761V552H764V551H766V550H769V551H770V552H772V551H774V552H777V551H780V552H786V551H790V552H796V553H799V551H803V552H806V549H807V547H808V544H813V545H815V547H816V549H817V551H832V552H834V551H837V552H842V551H843V550H846V548H847V538H848V532H849V524H850V517H851V515H852V512H853V506H854V505H855V504H857V505H858V506H859V507H860V513H861V526H862V539H863V547H864V550H865V551H869V552H871V551H875V552H876V553H880V552H884V551H888V550H892V548H893V547H895V546H897V545H900V546H901V549H902V551H912V550H914V551H915V552H927V551H930V552H932V551H933V550H935V549H941V550H942V551H943V552H945V553H949V552H964V553H969V551H974V552H978V553H979V554H985V553H987V552H1002V553H1006V551H1007V550H1008V543H1009V526H1010V500H1011V466H1012V439H1013V432H1014V431H1017V432H1018V438H1019V452H1020V471H1021V495H1022V513H1023V531H1024V541H1025V550H1026V551H1030V552H1036V551H1039V552H1045V551H1046V549H1047V545H1048V538H1049V537H1050V534H1051V533H1054V534H1055V537H1056V540H1057V541H1060V542H1061V545H1062V550H1063V551H1069V552H1073V551H1085V553H1088V552H1089V551H1095V550H1098V551H1106V552H1107V553H1113V552H1115V551H1118V552H1120V551H1125V550H1126V549H1129V550H1130V551H1131V552H1133V553H1135V552H1137V553H1141V552H1145V553H1147V552H1154V551H1155V550H1156V547H1157V542H1158V537H1159V535H1160V533H1161V532H1162V531H1165V532H1166V534H1167V537H1168V539H1169V542H1170V544H1171V548H1172V550H1173V551H1174V552H1177V553H1182V552H1184V551H1185V550H1186V547H1187V542H1188V538H1189V537H1190V536H1191V535H1194V536H1195V537H1196V540H1197V542H1198V543H1199V545H1200V546H1201V549H1202V551H1203V552H1207V551H1209V550H1212V551H1215V552H1216V553H1232V552H1236V553H1240V552H1254V553H1257V552H1259V553H1261V554H1264V553H1280V552H1285V551H1286V548H1287V538H1288V525H1289V511H1290V503H1291V500H1292V499H1294V475H1295V446H1296V435H1297V434H1300V435H1301V437H1302V457H1303V485H1304V494H1305V496H1306V498H1307V510H1308V524H1309V539H1310V547H1311V551H1313V552H1315V553H1319V552H1320V551H1322V550H1325V551H1326V552H1329V553H1333V552H1335V553H1337V552H1343V551H1345V550H1348V551H1349V552H1352V553H1376V551H1378V550H1379V551H1381V552H1383V551H1384V552H1389V553H1392V554H1394V553H1399V554H1404V553H1409V552H1412V553H1418V552H1419V553H1432V552H1438V553H1443V552H1444V551H1446V549H1448V547H1449V545H1450V544H1454V545H1456V546H1457V547H1458V548H1460V549H1461V550H1462V551H1463V553H1465V552H1466V553H1491V552H1492V553H1494V554H1496V553H1506V552H1507V553H1512V554H1515V553H1523V552H1524V553H1536V552H1538V551H1539V547H1540V541H1541V531H1542V522H1543V516H1544V515H1545V514H1547V515H1548V516H1549V519H1550V520H1551V521H1552V522H1553V528H1554V538H1555V546H1556V551H1557V552H1561V551H1564V550H1565V549H1567V548H1568V549H1571V550H1573V551H1574V552H1577V553H1584V552H1586V553H1595V554H1604V553H1618V552H1625V551H1635V552H1642V553H1656V552H1658V551H1659V549H1660V548H1661V547H1662V546H1663V544H1668V545H1670V546H1671V549H1672V550H1673V551H1674V552H1677V553H1684V552H1686V550H1687V549H1688V548H1690V547H1692V548H1694V550H1695V551H1696V553H1700V552H1703V553H1710V554H1713V553H1716V554H1718V553H1739V554H1742V553H1758V552H1760V553H1764V552H1766V551H1767V550H1768V548H1769V545H1770V541H1771V537H1772V533H1773V528H1774V524H1775V522H1776V521H1777V520H1780V521H1782V523H1783V528H1784V531H1785V537H1786V541H1787V544H1788V547H1789V549H1790V550H1791V551H1792V552H1794V550H1795V549H1796V547H1797V546H1804V545H1808V546H1809V548H1810V550H1811V552H1812V553H1823V554H1832V553H1834V554H1857V553H1858V554H1859V559H1819V558H1817V559H1812V558H1810V557H1809V556H1808V555H1807V554H1806V553H1799V554H1798V555H1797V556H1796V557H1791V556H1788V555H1787V554H1786V553H1785V551H1784V548H1783V545H1782V542H1781V538H1780V533H1778V534H1777V539H1776V542H1775V546H1774V549H1773V551H1772V553H1771V554H1770V556H1768V557H1766V558H1761V559H1758V558H1756V559H1737V558H1735V559H1706V558H1696V559H1695V558H1693V557H1692V555H1690V556H1688V558H1686V559H1675V558H1673V557H1671V556H1670V555H1669V553H1668V552H1667V550H1665V551H1664V553H1663V554H1662V555H1661V556H1660V557H1659V558H1655V559H1651V558H1647V559H1640V558H1635V557H1625V558H1623V559H1620V558H1618V559H1603V560H1602V559H1589V558H1586V559H1575V558H1573V557H1572V556H1570V555H1567V556H1565V557H1563V558H1558V557H1555V556H1553V554H1552V552H1551V548H1550V540H1549V530H1547V532H1546V542H1545V548H1544V553H1543V555H1542V556H1541V557H1540V558H1539V559H1537V558H1535V559H1520V560H1518V559H1509V558H1507V559H1500V558H1498V559H1497V560H1495V559H1488V560H1482V559H1474V560H1472V559H1469V560H1467V559H1462V558H1460V557H1459V556H1458V554H1457V553H1455V552H1451V553H1450V555H1449V557H1446V558H1444V559H1422V560H1417V559H1410V560H1406V559H1404V560H1398V559H1395V560H1390V559H1381V558H1377V559H1370V560H1368V559H1364V560H1356V559H1352V558H1349V557H1345V558H1342V559H1341V558H1339V559H1332V560H1329V559H1327V558H1326V557H1323V558H1321V559H1318V558H1316V559H1313V558H1309V557H1308V555H1307V553H1306V549H1305V540H1304V525H1303V511H1302V499H1301V498H1299V502H1298V509H1297V511H1295V512H1294V526H1293V539H1292V549H1291V553H1290V555H1289V556H1288V557H1287V558H1284V559H1280V560H1276V559H1273V560H1258V559H1252V560H1245V559H1232V560H1220V559H1218V560H1214V559H1213V557H1210V558H1200V556H1199V555H1198V552H1197V551H1196V548H1195V547H1194V546H1192V549H1191V551H1190V556H1189V557H1188V558H1186V559H1183V560H1179V559H1176V558H1170V556H1169V555H1168V552H1167V549H1166V546H1165V544H1162V548H1161V551H1160V554H1159V556H1158V557H1157V558H1156V559H1150V560H1147V559H1142V560H1135V559H1131V558H1130V557H1126V558H1121V559H1120V560H1111V561H1109V560H1104V559H1099V558H1098V557H1095V558H1094V559H1093V560H1091V559H1082V558H1075V559H1068V558H1066V559H1062V558H1061V557H1060V556H1059V554H1058V551H1057V548H1056V547H1052V550H1051V553H1050V555H1049V556H1048V557H1047V558H1046V559H1042V560H1037V559H1028V558H1026V557H1022V555H1021V552H1020V543H1019V532H1018V514H1017V502H1015V527H1014V544H1013V552H1012V554H1011V555H1010V557H1008V558H1007V559H1000V560H996V559H992V560H988V561H984V560H982V561H979V560H976V559H965V560H957V559H954V561H950V560H944V559H942V558H940V557H938V558H933V560H918V559H916V558H913V559H911V560H910V559H908V558H904V559H901V558H900V555H898V553H896V555H894V556H893V558H892V559H887V560H886V561H883V560H882V559H880V560H878V559H874V560H871V559H867V560H865V559H863V558H862V557H860V552H859V549H858V540H857V527H856V526H854V534H853V540H852V551H851V553H850V554H849V556H846V558H842V559H841V560H838V561H836V560H832V559H824V560H821V559H820V558H818V557H816V556H813V555H812V554H810V556H809V557H808V558H806V559H805V560H804V561H802V560H798V561H795V560H794V559H788V560H786V559H785V558H783V559H782V560H779V561H771V560H770V558H767V559H765V558H758V559H757V558H753V557H752V556H749V557H748V558H747V559H736V558H733V559H732V560H728V559H723V558H721V557H720V556H719V555H718V554H717V553H714V554H713V555H712V556H711V558H705V560H701V559H694V558H693V557H687V558H684V559H679V558H677V557H674V552H673V548H672V542H671V521H670V480H669V408H667V412H666V477H665V520H664V543H663V548H662V555H661V556H660V557H658V558H655V559H653V558H651V559H650V560H647V559H645V558H641V559H637V558H635V559H630V560H628V559H626V560H621V559H619V560H614V561H613V560H602V559H601V558H598V559H597V560H594V561H593V560H591V559H585V560H580V559H576V560H572V561H570V560H567V559H564V560H560V559H550V560H545V559H539V558H533V559H531V560H528V559H527V558H520V559H517V558H512V559H507V560H505V559H504V558H503V557H502V556H497V554H494V555H493V556H491V558H490V559H486V558H483V559H482V558H468V559H466V560H462V558H460V557H458V558H456V559H451V558H448V557H445V558H444V559H440V557H436V558H434V557H432V556H431V548H430V541H429V534H427V543H426V551H425V554H424V555H422V557H421V558H420V559H417V558H414V559H413V558H400V557H398V558H397V559H393V558H386V559H384V558H380V559H374V560H371V559H365V557H359V558H353V559H352V558H350V557H348V558H347V559H345V558H341V557H336V558H333V557H329V558H327V557H323V558H322V559H319V560H316V559H315V558H308V557H304V558H301V559H298V558H296V559H292V558H291V557H290V556H287V557H286V558H283V557H282V556H276V557H271V556H269V557H268V558H266V557H263V558H259V556H256V557H253V556H250V557H246V556H240V555H236V556H231V557H230V556H227V557H223V556H219V557H214V556H210V557H208V556H204V557H197V556H193V555H191V556H190V557H188V556H187V555H182V556H179V557H174V556H172V555H170V554H168V555H155V556H151V557H150V556H146V555H144V556H142V555H139V556H135V555H133V554H131V555H128V554H126V555H125V554H122V555H120V554H118V555H117V556H113Z"/>
</g>
<text xml:space="preserve"><tspan x="85.45" y="1293.80" font-size="50.50" textLength="56.81" lengthAdjust="spacingAndGlyphs">10</tspan></text>
<text xml:space="preserve"><tspan x="333.56" y="1293.80" font-size="50.50" textLength="58.16" lengthAdjust="spacingAndGlyphs">20</tspan></text>
<text xml:space="preserve"><tspan x="582.50" y="1293.80" font-size="50.50" textLength="58.42" lengthAdjust="spacingAndGlyphs">30</tspan></text>
<text xml:space="preserve"><tspan x="834.84" y="1293.80" font-size="50.50" textLength="55.68" lengthAdjust="spacingAndGlyphs">40</tspan></text>
<text xml:space="preserve"><tspan x="1082.68" y="1293.80" font-size="50.50" textLength="55.43" lengthAdjust="spacingAndGlyphs">50</tspan></text>
<text xml:space="preserve"><tspan x="1331.65" y="1293.80" font-size="50.50" textLength="57.02" lengthAdjust="spacingAndGlyphs">60</tspan></text>
<text xml:space="preserve"><tspan x="1579.35" y="1293.80" font-size="50.50" textLength="58.58" lengthAdjust="spacingAndGlyphs">70</tspan></text>
<text xml:space="preserve"><tspan x="1830.13" y="1293.80" font-size="50.50" textLength="56.31" lengthAdjust="spacingAndGlyphs">80</tspan></text>
<text xml:space="preserve"><tspan x="788.41" y="1370.20" font-size="54.84" textLength="400.50" lengthAdjust="spacingAndGlyphs">2Theta(degree)</tspan></text>
<text transform="translate(56.20 814.10) rotate(-90) scale(1.12 1)" font-size="54.40" x="-0.54 16.83 45.13 62.03 84.38 111.35 130.37 144.73 160.42 184.46 200.67 224.76 238.14 265.23" y="0">Intensity(a.u)</text>
<text xml:space="preserve"><tspan x="1179.68" y="203.50" font-size="74.50" textLength="90.40" lengthAdjust="spacingAndGlyphs">La</tspan><tspan x="1270.69" y="230.00" font-size="54.50" textLength="75.72" lengthAdjust="spacingAndGlyphs">0.8</tspan><tspan x="1344.39" y="203.50" font-size="74.50" textLength="101.20" lengthAdjust="spacingAndGlyphs">Nd</tspan><tspan x="1444.57" y="230.00" font-size="54.50" textLength="76.35" lengthAdjust="spacingAndGlyphs">0.2</tspan><tspan x="1520.65" y="203.50" font-size="74.50" textLength="144.29" lengthAdjust="spacingAndGlyphs">FeO</tspan><tspan x="1661.80" y="223.70" font-size="52.00" textLength="30.59" lengthAdjust="spacingAndGlyphs">3</tspan></text>
<text xml:space="preserve"><tspan x="144.41" y="518.70" font-size="50.00" textLength="126.02" lengthAdjust="spacingAndGlyphs">1000 </tspan><tspan x="269.53" y="491.90" font-size="30.30" textLength="18.05" lengthAdjust="spacingAndGlyphs">o</tspan><tspan x="286.11" y="519.70" font-size="52.90" textLength="42.69" lengthAdjust="spacingAndGlyphs">C</tspan></text>
<text xml:space="preserve"><tspan x="147.05" y="811.60" font-size="50.00" textLength="97.26" lengthAdjust="spacingAndGlyphs">800 </tspan><tspan x="243.51" y="784.80" font-size="30.30" textLength="18.29" lengthAdjust="spacingAndGlyphs">o</tspan><tspan x="260.11" y="812.60" font-size="52.90" textLength="42.69" lengthAdjust="spacingAndGlyphs">C</tspan></text>
<text xml:space="preserve"><tspan x="146.98" y="958.70" font-size="50.00" textLength="98.43" lengthAdjust="spacingAndGlyphs">600 </tspan><tspan x="244.63" y="931.90" font-size="30.30" textLength="18.05" lengthAdjust="spacingAndGlyphs">o</tspan><tspan x="260.11" y="959.70" font-size="52.90" textLength="42.69" lengthAdjust="spacingAndGlyphs">C</tspan></text>
<text xml:space="preserve"><tspan x="150.94" y="1102.70" font-size="50.00" textLength="97.51" lengthAdjust="spacingAndGlyphs">400 </tspan><tspan x="247.51" y="1075.90" font-size="30.30" textLength="18.29" lengthAdjust="spacingAndGlyphs">o</tspan><tspan x="263.00" y="1103.70" font-size="52.90" textLength="42.93" lengthAdjust="spacingAndGlyphs">C</tspan></text>
<text transform="translate(676.02 145.18) rotate(-90) scale(1.18 1)" font-size="37.94" x="-1.21 7.48 24.03 38.81 56.07" y="0">(121)</text>
<text transform="translate(444.92 476.13) rotate(-90) scale(1.18 1)" font-size="37.50" x="-1.23 7.56 24.76 38.89 56.01" y="0">(101)</text>
<text transform="translate(866.02 494.16) rotate(-90) scale(1.18 1)" font-size="37.94" x="-1.31 8.00 24.17 40.71 55.94" y="0">(220)</text>
<text transform="translate(1028.97 420.07) rotate(-90) scale(1.18 1)" font-size="37.72" x="-1.33 8.92 24.64 40.25 55.77" y="0">(202)</text>
<text transform="translate(1310.97 422.04) rotate(-90) scale(1.18 1)" font-size="37.72" x="-1.33 9.09 22.99 40.40 55.94" y="0">(240)</text>
<text transform="translate(1557.05 496.91) rotate(-90) scale(1.18 1)" font-size="37.83" x="-1.39 8.36 24.10 40.16 55.79" y="0">(242)</text>
<text transform="translate(1787.99 502.98) rotate(-90) scale(1.18 1)" font-size="37.61" x="-1.35 8.08 24.40 40.15 55.09" y="0">(204)</text>
</svg>
</body></html>
